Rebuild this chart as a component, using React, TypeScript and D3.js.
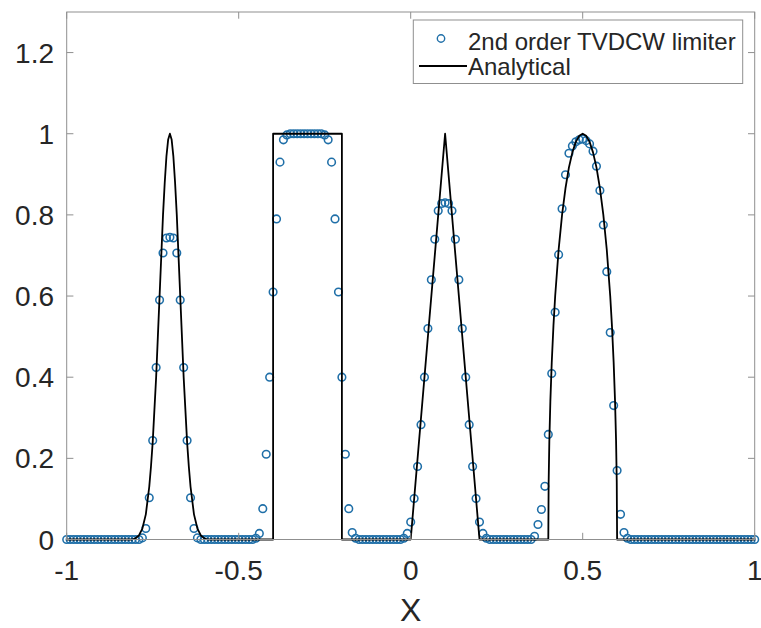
import React from "react";
import * as d3 from "d3";

// Numerical solution sampled on uniform nodes x = -1 + 0.01 * i, i = 0..200
const nodeStart = -1;
const nodeStep = 0.01;
const tvdcwValues: number[] = [
  0, 0, 0, 0, 0, 0, 0, 0, 0, 0,
  0, 0, 0, 0, 0, 0, 0, 0, 0, 0,
  0, 0, 0.004, 0.027, 0.103, 0.244, 0.424, 0.59, 0.706, 0.743,
  0.745, 0.743, 0.706, 0.59, 0.424, 0.244, 0.103, 0.027, 0.004, 0,
  0, 0, 0, 0, 0, 0, 0, 0, 0, 0,
  0, 0, 0, 0, 0, 0.003, 0.015, 0.076, 0.21, 0.4,
  0.61, 0.79, 0.93, 0.985, 0.997, 1, 1, 1, 1, 1,
  1, 1, 1, 1, 1, 0.997, 0.985, 0.93, 0.79, 0.61,
  0.4, 0.21, 0.076, 0.017, 0.003, 0, 0, 0, 0, 0,
  0, 0, 0, 0, 0, 0, 0, 0, 0.003, 0.015,
  0.043, 0.101, 0.18, 0.283, 0.4, 0.52, 0.64, 0.74, 0.81, 0.828,
  0.83, 0.828, 0.81, 0.74, 0.64, 0.52, 0.4, 0.283, 0.18, 0.101,
  0.043, 0.015, 0.003, 0, 0, 0, 0, 0, 0, 0,
  0, 0, 0, 0, 0, 0, 0.008, 0.037, 0.074, 0.131,
  0.259, 0.409, 0.56, 0.702, 0.815, 0.899, 0.952, 0.97, 0.98, 0.985,
  0.987, 0.983, 0.975, 0.957, 0.92, 0.86, 0.775, 0.66, 0.51, 0.33,
  0.17, 0.062, 0.017, 0.003, 0, 0, 0, 0, 0, 0,
  0, 0, 0, 0, 0, 0, 0, 0, 0, 0,
  0, 0, 0, 0, 0, 0, 0, 0, 0, 0,
  0, 0, 0, 0, 0, 0, 0, 0, 0, 0,
  0,
];

// Analytical profile: Gaussian pulse, square wave, triangle, half ellipse
const gaussCentre = -0.7;
const gaussOffsets = [0, 0.005, 0.01, 0.015, 0.02, 0.025, 0.03, 0.035, 0.04, 0.045, 0.05, 0.055, 0.06, 0.07, 0.08, 0.09, 0.1, 0.11];
const gaussHeights = [1, 0.986, 0.945, 0.88, 0.8, 0.7, 0.6, 0.5, 0.4, 0.32, 0.24, 0.18, 0.13, 0.062, 0.027, 0.01, 0.003, 0];
const squareX = [-0.4, -0.4, -0.2, -0.2];
const squareY = [0, 1, 1, 0];
const triangleX = [0, 0.1, 0.2];
const triangleY = [0, 1, 0];
const ellipseCentre = 0.5;
const ellipseOffsets = [0, 0.01, 0.02, 0.03, 0.04, 0.05, 0.06, 0.07, 0.08, 0.085, 0.09, 0.094, 0.097, 0.099, 0.1];
const ellipseHeights = [1, 0.995, 0.98, 0.954, 0.917, 0.866, 0.8, 0.714, 0.6, 0.527, 0.436, 0.341, 0.243, 0.141, 0];
const domainEnds = [-1, 1];

const xTicks = [-1, -0.5, 0, 0.5, 1];
const xTickLabels = ["-1", "-0.5", "0", "0.5", "1"];
const yTicks = [0, 0.2, 0.4, 0.6, 0.8, 1, 1.2];
const yTickLabels = ["0", "0.2", "0.4", "0.6", "0.8", "1", "1.2"];
const legendLabels = ["2nd order TVDCW limiter", "Analytical"];
const xAxisTitle = "X";

const W = 761;
const H = 628;
const plot = { left: 66.7, right: 754.7, top: 12, bottom: 539.5 };
const FONT = "'Liberation Sans', Arial, Helvetica, sans-serif";
const AXIS = "#8f8f8f";
const TEXT = "#262626";
const BLUE = "#1f6fa8";

function symmetric(centre: number, offsets: number[], heights: number[]): [number, number][] {
  const out: [number, number][] = [];
  for (let k = offsets.length - 1; k > 0; k--) out.push([centre - offsets[k], heights[k]]);
  out.push([centre, heights[0]]);
  for (let k = 1; k < offsets.length; k++) out.push([centre + offsets[k], heights[k]]);
  return out;
}

export default function App() {
  const x = d3.scaleLinear().domain([-1, 1]).range([plot.left, plot.right]);
  const y = d3.scaleLinear().domain([0, 1.3]).range([plot.bottom, plot.top]);

  const analytical: [number, number][] = [
    [domainEnds[0], 0],
    ...symmetric(gaussCentre, gaussOffsets, gaussHeights),
    ...squareX.map((v, i) => [v, squareY[i]] as [number, number]),
    ...triangleX.map((v, i) => [v, triangleY[i]] as [number, number]),
    ...symmetric(ellipseCentre, ellipseOffsets, ellipseHeights),
    [domainEnds[1], 0],
  ];
  const line = d3
    .line<[number, number]>()
    .x((d) => x(d[0]))
    .y((d) => y(d[1]));

  const tick = 6.7;

  return (
    <svg
      width={W}
      height={H}
      style={{ position: "absolute", left: 0, top: 0, background: "#fff" }}
      fontFamily={FONT}
    >
      <rect x={0} y={0} width={W} height={H} fill="#fff" />

      {/* numerical solution */}
      <g fill="none" stroke={BLUE} strokeWidth={1.55}>
        {tvdcwValues.map((v, i) => (
          <circle key={i} cx={x(nodeStart + i * nodeStep)} cy={y(v)} r={3.8} />
        ))}
      </g>

      {/* analytical solution */}
      <path d={line(analytical) || ""} fill="none" stroke="#000" strokeWidth={1.8} strokeLinejoin="round" />

      {/* axes box */}
      <rect
        x={plot.left}
        y={plot.top}
        width={plot.right - plot.left}
        height={plot.bottom - plot.top}
        fill="none"
        stroke={AXIS}
        strokeWidth={1}
      />

      {/* x ticks and labels */}
      {xTicks.map((t, i) => (
        <g key={"x" + i}>
          <line x1={x(t)} x2={x(t)} y1={plot.bottom} y2={plot.bottom - tick} stroke={AXIS} />
          <line x1={x(t)} x2={x(t)} y1={plot.top} y2={plot.top + tick} stroke={AXIS} />
          <text x={x(t)} y={580} textAnchor="middle" fontSize={28} fill={TEXT}>
            {xTickLabels[i]}
          </text>
        </g>
      ))}

      {/* y ticks and labels */}
      {yTicks.map((t, i) => (
        <g key={"y" + i}>
          <line x1={plot.left} x2={plot.left + tick} y1={y(t)} y2={y(t)} stroke={AXIS} />
          <line x1={plot.right} x2={plot.right - tick} y1={y(t)} y2={y(t)} stroke={AXIS} />
          <text x={54} y={y(t) + 10} textAnchor="end" fontSize={28} fill={TEXT}>
            {yTickLabels[i]}
          </text>
        </g>
      ))}

      <text x={x(0)} y={621} textAnchor="middle" fontSize={32} fill={TEXT}>
        {xAxisTitle}
      </text>

      {/* legend */}
      <g>
        <rect x={413.3} y={20} width={329.4} height={63.5} fill="#fff" stroke={AXIS} strokeWidth={1} />
        <circle cx={441} cy={38.5} r={3.7} fill="none" stroke={BLUE} strokeWidth={1.4} />
        <text x={468} y={50} fontSize={24} fill={TEXT}>
          {legendLabels[0]}
        </text>
        <line x1={419} x2={467} y1={66} y2={66} stroke="#000" strokeWidth={1.8} />
        <text x={468} y={75} fontSize={24} fill={TEXT}>
          {legendLabels[1]}
        </text>
      </g>
    </svg>
  );
}
